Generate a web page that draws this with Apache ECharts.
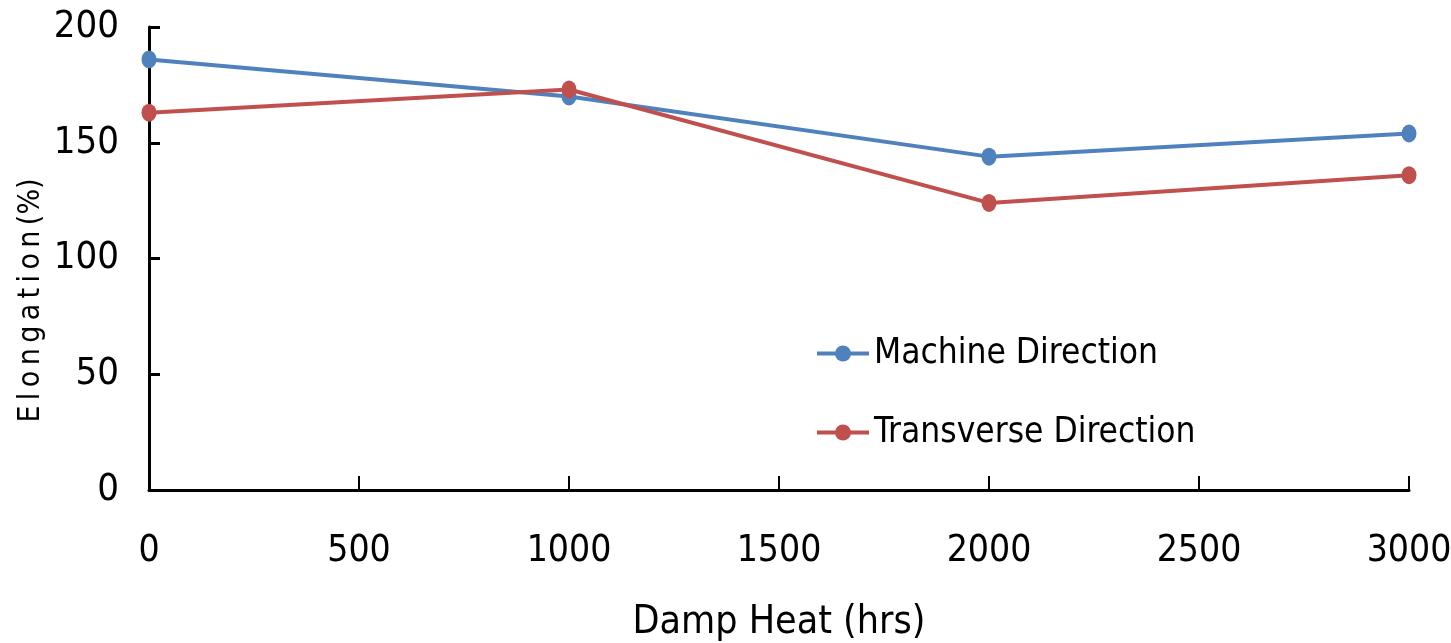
<!DOCTYPE html>
<html><head><meta charset="utf-8">
<script src="https://cdn.jsdelivr.net/npm/echarts@6/dist/echarts.min.js"></script>
<style>html,body{margin:0;padding:0;background:#fff}#c{width:1451px;height:643px}</style>
</head><body><div id="c"></div>
<script>
const hours = [0, 1000, 2000, 3000];
const machineDirection = [186, 170, 144, 154];
const transverseDirection = [163, 173, 124, 136];
const seriesNames = ['Machine Direction', 'Transverse Direction'];
const yTitle = 'E\u2009l\u2009o\u2009n\u2009g\u2009a\u2009t\u2009i\u2009o\u2009n\u2009(%)';
const FONT = '"Liberation Sans Narrow", "DejaVu Sans Condensed", sans-serif';

const chart = echarts.init(document.getElementById('c'));
chart.setOption({
  animation: false,
  backgroundColor: '#fff',
  grid: { left: 149, right: 42, top: 27, bottom: 153, containLabel: false, outerBoundsMode: 'none' },
  legend: {
    orient: 'vertical', left: 810, top: 331, itemGap: 44,
    itemWidth: 52, itemHeight: 20,
    lineStyle: { width: 4 },
    textStyle: { fontFamily: FONT, fontSize: 35, color: '#000' },
    data: seriesNames
  },
  xAxis: {
    type: 'value', min: 0, max: 3000, interval: 500,
    name: 'Damp Heat (hrs)', nameLocation: 'middle', nameGap: 113, nameMoveOverlap: false,
    nameTextStyle: { fontFamily: FONT, fontSize: 39, color: '#000' },
    axisLine: { lineStyle: { color: '#000', width: 3 } },
    axisTick: { inside: true, length: 14, lineStyle: { color: '#000', width: 2 } },
    axisLabel: { fontFamily: FONT, fontSize: 37, color: '#000', margin: 43, formatter: v => String(v) },
    splitLine: { show: false }
  },
  yAxis: {
    type: 'value', min: 0, max: 200, interval: 50,
    name: yTitle, nameLocation: 'middle', nameGap: 103, nameMoveOverlap: false,
    nameTextStyle: { fontFamily: FONT, fontSize: 30, color: '#000', padding: [0, 84, 0, 0] },
    axisLine: { show: true, lineStyle: { color: '#000', width: 3 } },
    axisTick: { show: true, inside: true, length: 11, lineStyle: { color: '#000', width: 3 } },
    axisLabel: { fontFamily: FONT, fontSize: 38, color: '#000', margin: 30 },
    splitLine: { show: false }
  },
  series: [
    {
      name: seriesNames[0], type: 'line',
      data: hours.map((h, i) => [h, machineDirection[i]]),
      symbol: 'circle', symbolSize: [15, 18],
      lineStyle: { color: '#4F81BD', width: 4 },
      itemStyle: { color: '#4F81BD' }
    },
    {
      name: seriesNames[1], type: 'line',
      data: hours.map((h, i) => [h, transverseDirection[i]]),
      symbol: 'circle', symbolSize: [15, 18],
      lineStyle: { color: '#C0504D', width: 4 },
      itemStyle: { color: '#C0504D' }
    }
  ]
});
</script></body></html>
